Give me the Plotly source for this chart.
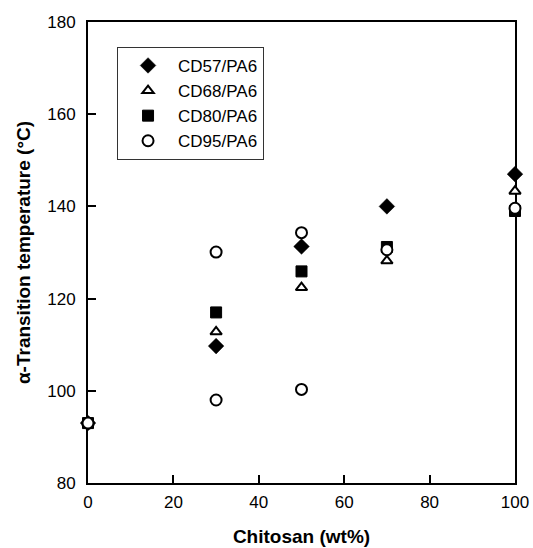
import plotly.graph_objects as go

# Chitosan content (wt%) of each blend
chitosan_wt = [0, 30, 50, 70, 100]
# Chitosan content for the CD95 series (two transitions at 30 and 50 wt%)
chitosan_wt_cd95 = [0, 30, 30, 50, 50, 70, 100]

# alpha-transition temperatures (deg C)
cd57_pa6 = [93, 109.7, 131.3, 140, 147]
cd68_pa6 = [93, 112.8, 122.4, 128.2, 143.3]
cd80_pa6 = [93, 117, 125.9, 131.2, 139]
cd95_pa6 = [93, 130.1, 98, 134.3, 100.3, 130.6, 139.6]

series_names = ["CD57/PA6", "CD68/PA6", "CD80/PA6", "CD95/PA6"]

x_ticks = [0, 20, 40, 60, 80, 100]
y_ticks = [80, 100, 120, 140, 160, 180]

FONT = "Liberation Sans, Arial, Helvetica, sans-serif"

fig = go.Figure()

fig.add_trace(go.Scatter(
    x=chitosan_wt, y=cd57_pa6, name=series_names[0], mode="markers",
    cliponaxis=False,
    marker=dict(symbol="diamond", size=12, color="black",
                line=dict(color="black", width=0.5)),
))
fig.add_trace(go.Scatter(
    x=chitosan_wt, y=cd68_pa6, name=series_names[1], mode="markers",
    cliponaxis=False,
    marker=dict(symbol="triangle-up", size=10, color="white",
                line=dict(color="black", width=2)),
))
fig.add_trace(go.Scatter(
    x=chitosan_wt, y=cd80_pa6, name=series_names[2], mode="markers",
    cliponaxis=False,
    marker=dict(symbol="square", size=11, color="black",
                line=dict(color="black", width=1)),
))
fig.add_trace(go.Scatter(
    x=chitosan_wt_cd95, y=cd95_pa6, name=series_names[3], mode="markers",
    cliponaxis=False,
    marker=dict(symbol="circle", size=11, color="white",
                line=dict(color="black", width=2)),
))

axis_common = dict(
    showline=True, linecolor="black", linewidth=2, mirror=True,
    ticks="inside", ticklen=8, tickwidth=1.5, tickcolor="black",
    showgrid=False, zeroline=False, layer="below traces",
    tickfont=dict(family=FONT, size=17, color="black"),
)

fig.update_xaxes(
    range=[0, 100], tickvals=x_ticks, ticklabelstandoff=3,
    title=dict(text="Chitosan (wt%)", standoff=18,
               font=dict(family=FONT, size=19, color="black", weight="bold")),
    **axis_common,
)
fig.update_yaxes(
    range=[80, 180], tickvals=y_ticks, ticklabelstandoff=7,
    title=dict(text="α-Transition temperature (°C)", standoff=12,
               font=dict(family=FONT, size=19, color="black", weight="bold")),
    **axis_common,
)

fig.update_layout(
    width=533, height=548,
    margin=dict(l=88, r=18, t=22, b=65, autoexpand=False),
    paper_bgcolor="white", plot_bgcolor="white",
    font=dict(family=FONT, color="black"),
    showlegend=True,
    legend=dict(
        x=0.068, y=0.946, xanchor="left", yanchor="top",
        bgcolor="white", bordercolor="#333", borderwidth=1,
        font=dict(family=FONT, size=17, color="black"),
        itemwidth=50,
    ),
)

fig.write_html("out.html")
